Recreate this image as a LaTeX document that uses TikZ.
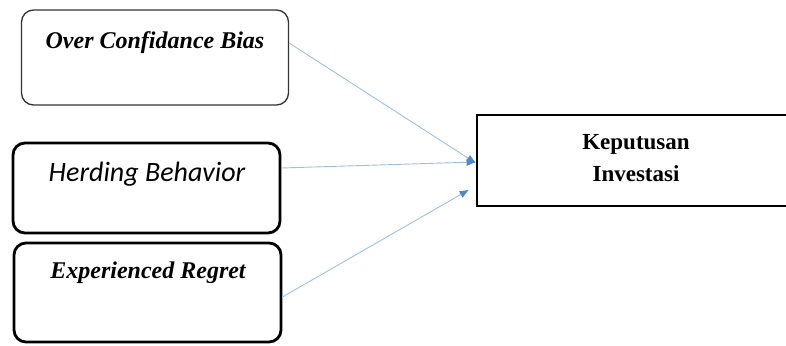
\documentclass[tikz,border=0pt]{standalone}
\usepackage{fontspec}
\setmainfont{Liberation Serif}
\newfontfamily\calibrifont{Carlito}
\usetikzlibrary{arrows.meta}
\usetikzlibrary{positioning}
\definecolor{lightarrow}{RGB}{160,190,225}
\definecolor{arrowtip}{RGB}{85,135,200}
\begin{document}
\begin{tikzpicture}[x=1pt, y=-1pt] % Pixelkoordinaten
\tikzset{
  varbox/.style={draw, rounded corners=12pt, line width=2.8pt, minimum width=267pt, inner sep=0pt},
  varthin/.style={varbox, line width=1.3pt, draw=black!80},
  zielbox/.style={draw, line width=2.8pt, minimum width=310pt, minimum height=91pt, inner sep=0pt},
  vartext/.style={font=\fontsize{24}{28}\selectfont\bfseries\itshape, inner sep=0pt, anchor=north},
  pfeil/.style={draw=lightarrow, line width=0.9pt, -{Triangle[length=9pt, width=7pt, color=arrowtip]}}
}
\useasboundingbox (0,0) rectangle (786,345);
% Kästen links
\node[varthin, minimum height=95pt] (ocb) at (155,57.5) {};
\node[varbox, minimum height=90pt] (hb) at (146.5,188) {};
\node[varbox, minimum height=99pt] (er) at (147.5,292.5) {};
% Kasten rechts
\node[zielbox] (ki) at (632,160.5) {};
% Beschriftungen
\node[vartext] (tocb) at (155,31) {Over Confidance Bias};
\node[vartext, font=\fontsize{28}{32}\selectfont\calibrifont\itshape] (thb) at (147,162) {Herding Behavior};
\node[vartext] (ter) at (148,262) {Experienced Regret};
\node[font=\fontsize{23}{32}\selectfont\bfseries, align=center, anchor=north] (tki) at (636,131) {Keputusan\\Investasi};
% Pfeile
\draw[pfeil] ([yshift=14.5pt]ocb.east) -- ([yshift=-2.5pt]ki.west);
\draw[pfeil] ([yshift=20pt]hb.east) -- ([yshift=-1.5pt]ki.west);
\draw[pfeil] ([yshift=-4.5pt]er.east) -- ([xshift=-7pt,yshift=-29.5pt]ki.west);
\end{tikzpicture}
\end{document}
